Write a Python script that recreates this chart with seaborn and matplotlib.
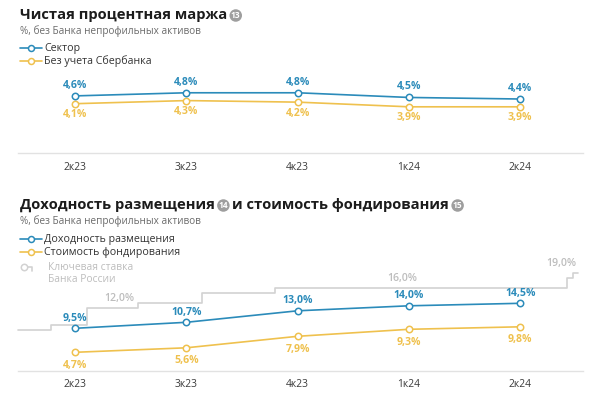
import numpy as np
import pandas as pd
import matplotlib
matplotlib.use("Agg")
import matplotlib.pyplot as plt
import seaborn as sns
from matplotlib.lines import Line2D
from matplotlib.patches import Ellipse
from matplotlib.transforms import ScaledTranslation

# ---------------- data ----------------
quarters = ["2к23", "3к23", "4к23", "1к24", "2к24"]
nim_sector = [4.6, 4.8, 4.8, 4.5, 4.4]
nim_ex_sber = [4.1, 4.3, 4.2, 3.9, 3.9]
yield_alloc = [9.5, 10.7, 13.0, 14.0, 14.5]
funding_cost = [4.7, 5.6, 7.9, 9.3, 9.8]
# key rate of the Bank of Russia, position of each change in quarter units
keyrate_values = [7.5, 8.5, 12.0, 13.0, 15.0, 16.0, 18.0, 19.0, 19.0]
keyrate_change_q = [-0.51, -0.22, 0.11, 0.57, 1.14, 1.80, 4.42, 4.47, 4.52]
keyrate_label_values = [12.0, 16.0, 19.0]
keyrate_label_q = [0.40, 2.94, 4.37]

BLUE = "#2b8bba"
YELLOW = "#efc14e"
GRAY_KR = "#d2d2d2"
GRAY_KR_TXT = "#bdbdbd"
DARK = "#1c1c1c"

sns.set_theme(style="white")
plt.rcParams["font.family"] = ["Open Sans", "DejaVu Sans"]

W, H = 591, 411
fig = plt.figure(figsize=(W / 100, H / 100), dpi=100)
fig.patch.set_facecolor("white")


def fx(px):
    return px / W


def fy(py):
    return 1 - py / H


def fmt(v):
    return f"{v:.1f}".replace(".", ",") + "%"


renderer = fig.canvas.get_renderer()


def badge(cx, cy, label):
    fig.add_artist(Ellipse((fx(cx), fy(cy)), 12.5 / W, 12.5 / H,
                           transform=fig.transFigure, fc="#9e9e9e", ec="none"))
    fig.text(fx(cx), fy(cy), label, fontsize=6, color="white",
             fontweight="bold", ha="center", va="center")


def title_parts(y, parts, x0=20):
    x = x0
    for kind, txt in parts:
        if kind == "t":
            t = fig.text(fx(x), fy(y), txt, fontsize=10.6, fontweight="bold",
                         color=DARK, ha="left", va="center")
            bb = t.get_window_extent(renderer)
            x = x + bb.width
        else:
            cx = x + 8.5
            badge(cx, y + 0.5, txt)
            x = cx + 9


def legend_item(y, color, label, text_color="#333333"):
    fig.add_artist(Line2D([fx(20), fx(42)], [fy(y), fy(y)], color=color, lw=1.2,
                          transform=fig.transFigure))
    fig.add_artist(Line2D([fx(31)], [fy(y)], color=color, marker="o", ms=4.3,
                          mfc="white", mew=1.1, transform=fig.transFigure))
    fig.text(fx(44), fy(y), label, fontsize=7.7, color=text_color,
             ha="left", va="center")


def style_axes(ax, xlim, ylim):
    ax.set_xlim(*xlim)
    ax.set_ylim(*ylim)
    ax.set_facecolor("none")
    for s in ["top", "right", "left"]:
        ax.spines[s].set_visible(False)
    ax.spines["bottom"].set_color("#e2e2e2")
    ax.spines["bottom"].set_linewidth(1.0)
    ax.set_yticks([])
    ax.set_xticks(range(len(quarters)))
    ax.set_xticklabels(quarters, fontsize=7.4, color="#3a3a3a")
    ax.tick_params(axis="x", length=0, pad=6)
    ax.set_xlabel("")
    ax.set_ylabel("")


def series(ax, vals, color, off, z=3):
    df = pd.DataFrame({"q": np.arange(len(quarters)), "v": vals})
    sns.lineplot(data=df, x="q", y="v", ax=ax, color=color, lw=1.2,
                 marker="o", ms=4.6, mfc="white", mec=color, mew=1.1,
                 zorder=z, clip_on=False, legend=False)
    for i, v in enumerate(vals):
        ax.annotate(fmt(v), (i, v), xytext=(0, off), textcoords="offset points",
                    ha="center", va="center", fontsize=7.6, fontweight="bold",
                    color=color)


XLIM = (-0.512, 4.564)

# ---------------- top chart ----------------
title_parts(15, [("t", "Чистая процентная маржа"), ("b", "13")])
fig.text(fx(20), fy(31), "%, без Банка непрофильных активов", fontsize=7.2,
         color="#6b6b6b", ha="left", va="center")
legend_item(48, BLUE, "Сектор")
legend_item(61, YELLOW, "Без учета Сбербанка")

ax1 = fig.add_axes([fx(18), fy(153.3), fx(583) - fx(18), (153.3 - 70) / H])
series(ax1, nim_ex_sber, YELLOW, -8)
series(ax1, nim_sector, BLUE, 7.7, z=4)
style_axes(ax1, XLIM, (0.92, 6.26))

# ---------------- bottom chart ----------------
title_parts(205, [("t", "Доходность размещения"), ("b", "14"),
                  ("t", "и стоимость фондирования"), ("b", "15")])
fig.text(fx(20), fy(221), "%, без Банка непрофильных активов", fontsize=7.2,
         color="#6b6b6b", ha="left", va="center")
legend_item(239, BLUE, "Доходность размещения")
legend_item(252, YELLOW, "Стоимость фондирования")
# key rate legend
fig.add_artist(Line2D([fx(25), fx(32), fx(32)], [fy(267), fy(267), fy(270.5)],
                      color=GRAY_KR, lw=1.2, transform=fig.transFigure))
fig.add_artist(Line2D([fx(23.5)], [fy(267)], color=GRAY_KR, marker="o", ms=4.6,
                      mfc="white", mew=1.1, transform=fig.transFigure))
fig.text(fx(48), fy(267), "Ключевая ставка", fontsize=7.4, color=GRAY_KR_TXT,
         ha="left", va="center")
fig.text(fx(48), fy(279.5), "Банка России", fontsize=7.4, color=GRAY_KR_TXT,
         ha="left", va="center")

ax2 = fig.add_axes([fx(18), fy(371), fx(583) - fx(18), (371 - 255) / H])
shift = ax2.transData + ScaledTranslation(0, 0.08, fig.dpi_scale_trans)
kr = pd.DataFrame({"q": keyrate_change_q, "v": keyrate_values})
sns.lineplot(data=kr, x="q", y="v", ax=ax2, color=GRAY_KR, lw=1.2,
             drawstyle="steps-post", estimator=None, transform=shift,
             clip_on=False, zorder=2, legend=False)
for q, v in zip(keyrate_label_q, keyrate_label_values):
    ax2.annotate(fmt(v), (q, v), xytext=(0, 12.5), textcoords="offset points",
                 ha="center", va="center", fontsize=7.6, color=GRAY_KR_TXT,
                 fontweight="semibold")
series(ax2, funding_cost, YELLOW, -9.5)
series(ax2, yield_alloc, BLUE, 7.2, z=4)
style_axes(ax2, XLIM, (0.96, 24.16))

fig.savefig("out.png", dpi=100, facecolor="white")
